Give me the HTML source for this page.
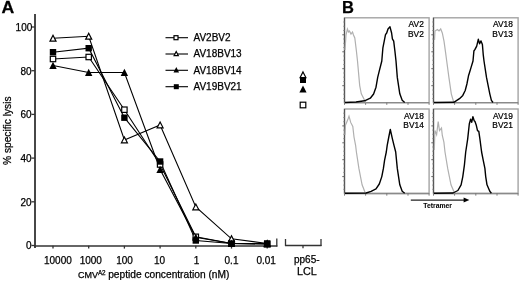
<!DOCTYPE html>
<html><head><meta charset="utf-8"><style>
html,body{margin:0;padding:0;background:#fff;}
svg{display:block;filter:blur(0.3px);}
text{font-family:"Liberation Sans",sans-serif;fill:#000;stroke:#000;stroke-width:0.25px;}
</style></head><body>
<svg width="520" height="281" viewBox="0 0 520 281">
<text transform="translate(1.5,13.3) scale(1.07,1)" font-size="16.5" font-weight="bold">A</text>
<text x="342" y="13.3" font-size="16.5" font-weight="bold">B</text>
<line x1="35" y1="14" x2="35" y2="248" stroke="#333" stroke-width="1.8"/>
<line x1="31.5" y1="27.0" x2="35" y2="27.0" stroke="#333" stroke-width="1.3"/>
<text x="32.3" y="30.9" font-size="10" text-anchor="end">100</text>
<line x1="31.5" y1="70.7" x2="35" y2="70.7" stroke="#333" stroke-width="1.3"/>
<text x="31.5" y="74.6" font-size="10" text-anchor="end">80</text>
<line x1="31.5" y1="114.4" x2="35" y2="114.4" stroke="#333" stroke-width="1.3"/>
<text x="31.5" y="118.3" font-size="10" text-anchor="end">60</text>
<line x1="31.5" y1="158.1" x2="35" y2="158.1" stroke="#333" stroke-width="1.3"/>
<text x="31.5" y="162.0" font-size="10" text-anchor="end">40</text>
<line x1="31.5" y1="201.8" x2="35" y2="201.8" stroke="#333" stroke-width="1.3"/>
<text x="31.5" y="205.7" font-size="10" text-anchor="end">20</text>
<line x1="31.5" y1="245.5" x2="35" y2="245.5" stroke="#333" stroke-width="1.3"/>
<text x="31.5" y="249.4" font-size="10" text-anchor="end">0</text>
<text transform="translate(11.4,165) rotate(-90)" font-size="10.2">% specific lysis</text>
<line x1="34" y1="246" x2="277.4" y2="246" stroke="#333" stroke-width="1.6"/>
<line x1="276.8" y1="238.5" x2="276.8" y2="246.6" stroke="#333" stroke-width="1.3"/>
<line x1="53" y1="245.8" x2="53" y2="248.6" stroke="#333" stroke-width="1.3"/>
<line x1="88.7" y1="245.8" x2="88.7" y2="248.6" stroke="#333" stroke-width="1.3"/>
<line x1="124.4" y1="245.8" x2="124.4" y2="248.6" stroke="#333" stroke-width="1.3"/>
<line x1="160.1" y1="245.8" x2="160.1" y2="248.6" stroke="#333" stroke-width="1.3"/>
<line x1="195.8" y1="245.8" x2="195.8" y2="248.6" stroke="#333" stroke-width="1.3"/>
<line x1="231.5" y1="245.8" x2="231.5" y2="248.6" stroke="#333" stroke-width="1.3"/>
<line x1="267.2" y1="245.8" x2="267.2" y2="248.6" stroke="#333" stroke-width="1.3"/>
<line x1="285" y1="245.5" x2="321.5" y2="245.5" stroke="#333" stroke-width="1.6"/>
<line x1="285.5" y1="239" x2="285.5" y2="246" stroke="#333" stroke-width="1.3"/>
<line x1="321" y1="239" x2="321" y2="246" stroke="#333" stroke-width="1.3"/>
<line x1="303" y1="245.5" x2="303" y2="248.3" stroke="#333" stroke-width="1.3"/>
<text x="57.9" y="263.5" font-size="10" text-anchor="middle">10000</text>
<text x="90.8" y="263.5" font-size="10" text-anchor="middle">1000</text>
<text x="124.5" y="263.5" font-size="10" text-anchor="middle">100</text>
<text x="159.6" y="263.5" font-size="10" text-anchor="middle">10</text>
<text x="196.5" y="263.5" font-size="10" text-anchor="middle">1</text>
<text x="231.5" y="263.5" font-size="10" text-anchor="middle">0.1</text>
<text x="266.2" y="263.5" font-size="10" text-anchor="middle">0.01</text>
<text x="306.8" y="263.3" font-size="10" text-anchor="middle">pp65-</text>
<text x="306.9" y="275.4" font-size="10.8" text-anchor="middle">LCL</text>
<text x="77.9" y="277.6" font-size="9">CMV</text>
<text x="97.9" y="274.6" font-size="6.3">A2</text>
<text x="108.2" y="277.6" font-size="10.2">peptide concentration (nM)</text>
<polyline points="53.0,59.0 88.7,57.0 124.4,109.7 160.1,164.5 195.8,236.8 231.5,243.5 267.2,244.0" fill="none" stroke="#000" stroke-width="1.1"/>
<polyline points="53.0,38.3 88.7,36.3 124.4,140.0 160.1,125.0 195.8,207.0 231.5,238.8 267.2,243.5" fill="none" stroke="#000" stroke-width="1.1"/>
<polyline points="53.0,65.5 88.7,72.5 124.4,72.5 160.1,169.5 195.8,237.2 231.5,243.5 267.2,244.0" fill="none" stroke="#000" stroke-width="1.1"/>
<polyline points="53.0,52.2 88.7,48.2 124.4,117.7 160.1,161.5 195.8,240.5 231.5,243.5 267.2,243.5" fill="none" stroke="#000" stroke-width="1.1"/>
<rect x="50.3" y="56.3" width="5.4" height="5.4" fill="#fff" stroke="#000" stroke-width="1.2"/>
<rect x="86.0" y="54.3" width="5.4" height="5.4" fill="#fff" stroke="#000" stroke-width="1.2"/>
<rect x="121.7" y="107.0" width="5.4" height="5.4" fill="#fff" stroke="#000" stroke-width="1.2"/>
<rect x="157.4" y="161.8" width="5.4" height="5.4" fill="#fff" stroke="#000" stroke-width="1.2"/>
<rect x="193.1" y="234.1" width="5.4" height="5.4" fill="#fff" stroke="#000" stroke-width="1.2"/>
<rect x="228.8" y="240.8" width="5.4" height="5.4" fill="#fff" stroke="#000" stroke-width="1.2"/>
<rect x="264.5" y="241.3" width="5.4" height="5.4" fill="#fff" stroke="#000" stroke-width="1.2"/>
<polygon points="53.0,35.3 56.0,41.1 50.0,41.1" fill="#fff" stroke="#000" stroke-width="1.2" stroke-linejoin="miter"/>
<polygon points="88.7,33.3 91.7,39.1 85.7,39.1" fill="#fff" stroke="#000" stroke-width="1.2" stroke-linejoin="miter"/>
<polygon points="124.4,137.0 127.4,142.8 121.4,142.8" fill="#fff" stroke="#000" stroke-width="1.2" stroke-linejoin="miter"/>
<polygon points="160.1,122.0 163.1,127.8 157.1,127.8" fill="#fff" stroke="#000" stroke-width="1.2" stroke-linejoin="miter"/>
<polygon points="195.8,204.0 198.8,209.8 192.8,209.8" fill="#fff" stroke="#000" stroke-width="1.2" stroke-linejoin="miter"/>
<polygon points="231.5,235.8 234.5,241.7 228.5,241.7" fill="#fff" stroke="#000" stroke-width="1.2" stroke-linejoin="miter"/>
<polygon points="267.2,240.5 270.2,246.3 264.2,246.3" fill="#fff" stroke="#000" stroke-width="1.2" stroke-linejoin="miter"/>
<polygon points="53.0,61.8 56.7,69.0 49.3,69.0" fill="#000"/>
<polygon points="88.7,68.8 92.4,76.0 85.0,76.0" fill="#000"/>
<polygon points="124.4,68.8 128.1,76.0 120.7,76.0" fill="#000"/>
<polygon points="160.1,165.8 163.8,173.0 156.4,173.0" fill="#000"/>
<polygon points="195.8,233.5 199.5,240.7 192.1,240.7" fill="#000"/>
<polygon points="231.5,239.8 235.2,247.0 227.8,247.0" fill="#000"/>
<polygon points="267.2,240.3 270.9,247.5 263.5,247.5" fill="#000"/>
<rect x="49.8" y="49.0" width="6.4" height="6.4" fill="#000"/>
<rect x="85.5" y="45.0" width="6.4" height="6.4" fill="#000"/>
<rect x="121.2" y="114.5" width="6.4" height="6.4" fill="#000"/>
<rect x="156.9" y="158.3" width="6.4" height="6.4" fill="#000"/>
<rect x="192.6" y="237.3" width="6.4" height="6.4" fill="#000"/>
<rect x="228.3" y="240.3" width="6.4" height="6.4" fill="#000"/>
<rect x="264.0" y="240.3" width="6.4" height="6.4" fill="#000"/>
<line x1="165.5" y1="37.7" x2="188" y2="37.7" stroke="#000" stroke-width="1.1"/>
<text x="193.5" y="41.1" font-size="10">AV2BV2</text>
<line x1="165.5" y1="54.0" x2="188" y2="54.0" stroke="#000" stroke-width="1.1"/>
<text x="193.5" y="57.4" font-size="10">AV18BV13</text>
<line x1="165.5" y1="70.3" x2="188" y2="70.3" stroke="#000" stroke-width="1.1"/>
<text x="193.5" y="73.7" font-size="10">AV18BV14</text>
<line x1="165.5" y1="86.7" x2="188" y2="86.7" stroke="#000" stroke-width="1.1"/>
<text x="193.5" y="90.1" font-size="10">AV19BV21</text>
<rect x="174.0" y="35.7" width="4.0" height="4.0" fill="#fff" stroke="#000" stroke-width="1.2"/>
<polygon points="176.2,51.5 178.3,55.6 174.1,55.6" fill="#fff" stroke="#000" stroke-width="1.2" stroke-linejoin="miter"/>
<polygon points="176.3,67.0 179.1,72.5 173.5,72.5" fill="#000"/>
<rect x="173.8" y="84.2" width="5" height="5" fill="#000"/>
<rect x="300.0" y="77.0" width="6" height="6" fill="#000"/>
<polygon points="303.0,85.4 306.6,92.4 299.4,92.4" fill="#000"/>
<rect x="300.2" y="102.2" width="5.6" height="5.6" fill="#fff" stroke="#000" stroke-width="1.2"/>
<polygon points="303.0,71.9 305.9,77.6 300.1,77.6" fill="#fff" stroke="#000" stroke-width="1.2" stroke-linejoin="miter"/>
<rect x="344.5" y="17.8" width="84.60000000000002" height="84.9" fill="none" stroke="#a4a4a4" stroke-width="1.4"/>
<line x1="344.5" y1="17.8" x2="344.5" y2="102.7" stroke="#555" stroke-width="1.2"/>
<line x1="344.5" y1="102.7" x2="429.1" y2="102.7" stroke="#8a8a8a" stroke-width="1.3"/>
<line x1="344.5" y1="102.7" x2="344.5" y2="104.9" stroke="#666" stroke-width="0.8"/>
<line x1="365.6" y1="102.7" x2="365.6" y2="104.9" stroke="#666" stroke-width="0.8"/>
<line x1="386.8" y1="102.7" x2="386.8" y2="104.9" stroke="#666" stroke-width="0.8"/>
<line x1="408.0" y1="102.7" x2="408.0" y2="104.9" stroke="#666" stroke-width="0.8"/>
<line x1="429.1" y1="102.7" x2="429.1" y2="104.9" stroke="#666" stroke-width="0.8"/>
<line x1="343.2" y1="98.5" x2="344.5" y2="98.5" stroke="#888" stroke-width="0.8"/>
<line x1="343.2" y1="94.2" x2="344.5" y2="94.2" stroke="#888" stroke-width="0.8"/>
<line x1="343.2" y1="90.0" x2="344.5" y2="90.0" stroke="#888" stroke-width="0.8"/>
<line x1="342.3" y1="85.7" x2="344.5" y2="85.7" stroke="#666" stroke-width="1"/>
<line x1="343.2" y1="81.5" x2="344.5" y2="81.5" stroke="#888" stroke-width="0.8"/>
<line x1="343.2" y1="77.2" x2="344.5" y2="77.2" stroke="#888" stroke-width="0.8"/>
<line x1="343.2" y1="73.0" x2="344.5" y2="73.0" stroke="#888" stroke-width="0.8"/>
<line x1="342.3" y1="68.7" x2="344.5" y2="68.7" stroke="#666" stroke-width="1"/>
<line x1="343.2" y1="64.5" x2="344.5" y2="64.5" stroke="#888" stroke-width="0.8"/>
<line x1="343.2" y1="60.2" x2="344.5" y2="60.2" stroke="#888" stroke-width="0.8"/>
<line x1="343.2" y1="56.0" x2="344.5" y2="56.0" stroke="#888" stroke-width="0.8"/>
<line x1="342.3" y1="51.8" x2="344.5" y2="51.8" stroke="#666" stroke-width="1"/>
<line x1="343.2" y1="47.5" x2="344.5" y2="47.5" stroke="#888" stroke-width="0.8"/>
<line x1="343.2" y1="43.3" x2="344.5" y2="43.3" stroke="#888" stroke-width="0.8"/>
<line x1="343.2" y1="39.0" x2="344.5" y2="39.0" stroke="#888" stroke-width="0.8"/>
<line x1="342.3" y1="34.8" x2="344.5" y2="34.8" stroke="#666" stroke-width="1"/>
<line x1="343.2" y1="30.5" x2="344.5" y2="30.5" stroke="#888" stroke-width="0.8"/>
<line x1="343.2" y1="26.3" x2="344.5" y2="26.3" stroke="#888" stroke-width="0.8"/>
<line x1="343.2" y1="22.0" x2="344.5" y2="22.0" stroke="#888" stroke-width="0.8"/>
<path d="M345,50 L346,35 L347.4,29 L348.5,32 L349.5,31 L351,34 L352.5,32 L353.5,35 L354.8,38 L356.4,51 L357.5,61 L359.7,85.6 L361.3,93.8 L364.6,100.3 L366,102.5" fill="none" stroke="#b0b0b0" stroke-width="1.2"/>
<path d="M345,102.5 L356,102 L364.6,100.8 L370.3,98.2 L373.6,94 L376,87.2 L377.7,77.4 L379.3,70.8 L381.8,61 L382.9,47.8 L385.5,34.7 L386.7,33 L388,29 L390,26.8 L391.6,33 L392.4,38.8 L393.7,41.2 L394.9,51 L396,61 L397.3,77.4 L399.8,93.8 L402.2,100.3 L404.7,102.5" fill="none" stroke="#000" stroke-width="1.4" stroke-linejoin="round"/>
<text transform="translate(423.8,27.3) scale(0.93,1)" font-size="9" text-anchor="end">AV2</text>
<text transform="translate(423.8,37.0) scale(0.93,1)" font-size="9" text-anchor="end">BV2</text>
<rect x="433.5" y="17.8" width="84.60000000000002" height="84.9" fill="none" stroke="#a4a4a4" stroke-width="1.4"/>
<line x1="433.5" y1="17.8" x2="433.5" y2="102.7" stroke="#555" stroke-width="1.2"/>
<line x1="433.5" y1="102.7" x2="518.1" y2="102.7" stroke="#8a8a8a" stroke-width="1.3"/>
<line x1="433.5" y1="102.7" x2="433.5" y2="104.9" stroke="#666" stroke-width="0.8"/>
<line x1="454.6" y1="102.7" x2="454.6" y2="104.9" stroke="#666" stroke-width="0.8"/>
<line x1="475.8" y1="102.7" x2="475.8" y2="104.9" stroke="#666" stroke-width="0.8"/>
<line x1="497.0" y1="102.7" x2="497.0" y2="104.9" stroke="#666" stroke-width="0.8"/>
<line x1="518.1" y1="102.7" x2="518.1" y2="104.9" stroke="#666" stroke-width="0.8"/>
<line x1="432.2" y1="98.5" x2="433.5" y2="98.5" stroke="#888" stroke-width="0.8"/>
<line x1="432.2" y1="94.2" x2="433.5" y2="94.2" stroke="#888" stroke-width="0.8"/>
<line x1="432.2" y1="90.0" x2="433.5" y2="90.0" stroke="#888" stroke-width="0.8"/>
<line x1="431.3" y1="85.7" x2="433.5" y2="85.7" stroke="#666" stroke-width="1"/>
<line x1="432.2" y1="81.5" x2="433.5" y2="81.5" stroke="#888" stroke-width="0.8"/>
<line x1="432.2" y1="77.2" x2="433.5" y2="77.2" stroke="#888" stroke-width="0.8"/>
<line x1="432.2" y1="73.0" x2="433.5" y2="73.0" stroke="#888" stroke-width="0.8"/>
<line x1="431.3" y1="68.7" x2="433.5" y2="68.7" stroke="#666" stroke-width="1"/>
<line x1="432.2" y1="64.5" x2="433.5" y2="64.5" stroke="#888" stroke-width="0.8"/>
<line x1="432.2" y1="60.2" x2="433.5" y2="60.2" stroke="#888" stroke-width="0.8"/>
<line x1="432.2" y1="56.0" x2="433.5" y2="56.0" stroke="#888" stroke-width="0.8"/>
<line x1="431.3" y1="51.8" x2="433.5" y2="51.8" stroke="#666" stroke-width="1"/>
<line x1="432.2" y1="47.5" x2="433.5" y2="47.5" stroke="#888" stroke-width="0.8"/>
<line x1="432.2" y1="43.3" x2="433.5" y2="43.3" stroke="#888" stroke-width="0.8"/>
<line x1="432.2" y1="39.0" x2="433.5" y2="39.0" stroke="#888" stroke-width="0.8"/>
<line x1="431.3" y1="34.8" x2="433.5" y2="34.8" stroke="#666" stroke-width="1"/>
<line x1="432.2" y1="30.5" x2="433.5" y2="30.5" stroke="#888" stroke-width="0.8"/>
<line x1="432.2" y1="26.3" x2="433.5" y2="26.3" stroke="#888" stroke-width="0.8"/>
<line x1="432.2" y1="22.0" x2="433.5" y2="22.0" stroke="#888" stroke-width="0.8"/>
<path d="M434.5,40 L435,31 L437.4,29.5 L439,31 L440.7,29 L442.3,33 L444,41.2 L445.6,52.7 L446.7,61 L448.9,77.4 L451.3,93.8 L453.8,102.5" fill="none" stroke="#b0b0b0" stroke-width="1.2"/>
<path d="M434,102.5 L453.8,102.3 L459.5,98.7 L462.8,95.4 L465.2,90.5 L466.9,84 L468.5,75.8 L469.3,73.3 L471,67.6 L473,61 L473.9,51 L475,49.4 L476.7,46.1 L478.3,39.3 L479.6,43.7 L481,40.9 L482.4,44.5 L483.2,54.3 L484,61 L486.5,77.4 L489.8,93.8 L491.4,100.3 L493,102.5" fill="none" stroke="#000" stroke-width="1.4" stroke-linejoin="round"/>
<text transform="translate(512.8,27.3) scale(0.93,1)" font-size="9" text-anchor="end">AV18</text>
<text transform="translate(512.8,37.0) scale(0.93,1)" font-size="9" text-anchor="end">BV13</text>
<rect x="344.5" y="109" width="84.60000000000002" height="84.5" fill="none" stroke="#a4a4a4" stroke-width="1.4"/>
<line x1="344.5" y1="109" x2="344.5" y2="193.5" stroke="#555" stroke-width="1.2"/>
<line x1="344.5" y1="193.5" x2="429.1" y2="193.5" stroke="#8a8a8a" stroke-width="1.3"/>
<line x1="344.5" y1="193.5" x2="344.5" y2="195.7" stroke="#666" stroke-width="0.8"/>
<line x1="365.6" y1="193.5" x2="365.6" y2="195.7" stroke="#666" stroke-width="0.8"/>
<line x1="386.8" y1="193.5" x2="386.8" y2="195.7" stroke="#666" stroke-width="0.8"/>
<line x1="408.0" y1="193.5" x2="408.0" y2="195.7" stroke="#666" stroke-width="0.8"/>
<line x1="429.1" y1="193.5" x2="429.1" y2="195.7" stroke="#666" stroke-width="0.8"/>
<line x1="343.2" y1="189.3" x2="344.5" y2="189.3" stroke="#888" stroke-width="0.8"/>
<line x1="343.2" y1="185.1" x2="344.5" y2="185.1" stroke="#888" stroke-width="0.8"/>
<line x1="343.2" y1="180.8" x2="344.5" y2="180.8" stroke="#888" stroke-width="0.8"/>
<line x1="342.3" y1="176.6" x2="344.5" y2="176.6" stroke="#666" stroke-width="1"/>
<line x1="343.2" y1="172.4" x2="344.5" y2="172.4" stroke="#888" stroke-width="0.8"/>
<line x1="343.2" y1="168.2" x2="344.5" y2="168.2" stroke="#888" stroke-width="0.8"/>
<line x1="343.2" y1="163.9" x2="344.5" y2="163.9" stroke="#888" stroke-width="0.8"/>
<line x1="342.3" y1="159.7" x2="344.5" y2="159.7" stroke="#666" stroke-width="1"/>
<line x1="343.2" y1="155.5" x2="344.5" y2="155.5" stroke="#888" stroke-width="0.8"/>
<line x1="343.2" y1="151.2" x2="344.5" y2="151.2" stroke="#888" stroke-width="0.8"/>
<line x1="343.2" y1="147.0" x2="344.5" y2="147.0" stroke="#888" stroke-width="0.8"/>
<line x1="342.3" y1="142.8" x2="344.5" y2="142.8" stroke="#666" stroke-width="1"/>
<line x1="343.2" y1="138.6" x2="344.5" y2="138.6" stroke="#888" stroke-width="0.8"/>
<line x1="343.2" y1="134.3" x2="344.5" y2="134.3" stroke="#888" stroke-width="0.8"/>
<line x1="343.2" y1="130.1" x2="344.5" y2="130.1" stroke="#888" stroke-width="0.8"/>
<line x1="342.3" y1="125.9" x2="344.5" y2="125.9" stroke="#666" stroke-width="1"/>
<line x1="343.2" y1="121.7" x2="344.5" y2="121.7" stroke="#888" stroke-width="0.8"/>
<line x1="343.2" y1="117.5" x2="344.5" y2="117.5" stroke="#888" stroke-width="0.8"/>
<line x1="343.2" y1="113.2" x2="344.5" y2="113.2" stroke="#888" stroke-width="0.8"/>
<path d="M345,135 L345.5,125 L346.6,122.4 L348,119 L349,116.2 L350.7,122.4 L352.8,126.5 L354,137 L355.6,145.3 L356.4,152 L358.9,168.4 L362.1,184.8 L365.4,193.3" fill="none" stroke="#b0b0b0" stroke-width="1.2"/>
<path d="M345,193.3 L366.2,193 L371.1,191.3 L376,188.9 L379.3,184 L381.8,176.6 L383.4,168.4 L384.6,160.2 L386.3,152 L387.2,145.3 L388.7,137.5 L390.3,129.5 L392.4,138.8 L394,145.3 L395.7,152 L397.3,168.4 L399.8,184.8 L402.2,191.3 L404.7,193.3" fill="none" stroke="#000" stroke-width="1.4" stroke-linejoin="round"/>
<text transform="translate(423.8,118.5) scale(0.93,1)" font-size="9" text-anchor="end">AV18</text>
<text transform="translate(423.8,128.2) scale(0.93,1)" font-size="9" text-anchor="end">BV14</text>
<rect x="433.5" y="109" width="84.60000000000002" height="84.5" fill="none" stroke="#a4a4a4" stroke-width="1.4"/>
<line x1="433.5" y1="109" x2="433.5" y2="193.5" stroke="#555" stroke-width="1.2"/>
<line x1="433.5" y1="193.5" x2="518.1" y2="193.5" stroke="#8a8a8a" stroke-width="1.3"/>
<line x1="433.5" y1="193.5" x2="433.5" y2="195.7" stroke="#666" stroke-width="0.8"/>
<line x1="454.6" y1="193.5" x2="454.6" y2="195.7" stroke="#666" stroke-width="0.8"/>
<line x1="475.8" y1="193.5" x2="475.8" y2="195.7" stroke="#666" stroke-width="0.8"/>
<line x1="497.0" y1="193.5" x2="497.0" y2="195.7" stroke="#666" stroke-width="0.8"/>
<line x1="518.1" y1="193.5" x2="518.1" y2="195.7" stroke="#666" stroke-width="0.8"/>
<line x1="432.2" y1="189.3" x2="433.5" y2="189.3" stroke="#888" stroke-width="0.8"/>
<line x1="432.2" y1="185.1" x2="433.5" y2="185.1" stroke="#888" stroke-width="0.8"/>
<line x1="432.2" y1="180.8" x2="433.5" y2="180.8" stroke="#888" stroke-width="0.8"/>
<line x1="431.3" y1="176.6" x2="433.5" y2="176.6" stroke="#666" stroke-width="1"/>
<line x1="432.2" y1="172.4" x2="433.5" y2="172.4" stroke="#888" stroke-width="0.8"/>
<line x1="432.2" y1="168.2" x2="433.5" y2="168.2" stroke="#888" stroke-width="0.8"/>
<line x1="432.2" y1="163.9" x2="433.5" y2="163.9" stroke="#888" stroke-width="0.8"/>
<line x1="431.3" y1="159.7" x2="433.5" y2="159.7" stroke="#666" stroke-width="1"/>
<line x1="432.2" y1="155.5" x2="433.5" y2="155.5" stroke="#888" stroke-width="0.8"/>
<line x1="432.2" y1="151.2" x2="433.5" y2="151.2" stroke="#888" stroke-width="0.8"/>
<line x1="432.2" y1="147.0" x2="433.5" y2="147.0" stroke="#888" stroke-width="0.8"/>
<line x1="431.3" y1="142.8" x2="433.5" y2="142.8" stroke="#666" stroke-width="1"/>
<line x1="432.2" y1="138.6" x2="433.5" y2="138.6" stroke="#888" stroke-width="0.8"/>
<line x1="432.2" y1="134.3" x2="433.5" y2="134.3" stroke="#888" stroke-width="0.8"/>
<line x1="432.2" y1="130.1" x2="433.5" y2="130.1" stroke="#888" stroke-width="0.8"/>
<line x1="431.3" y1="125.9" x2="433.5" y2="125.9" stroke="#666" stroke-width="1"/>
<line x1="432.2" y1="121.7" x2="433.5" y2="121.7" stroke="#888" stroke-width="0.8"/>
<line x1="432.2" y1="117.5" x2="433.5" y2="117.5" stroke="#888" stroke-width="0.8"/>
<line x1="432.2" y1="113.2" x2="433.5" y2="113.2" stroke="#888" stroke-width="0.8"/>
<path d="M434.3,150 L434.9,130.6 L436.6,134.7 L438.2,121.6 L439.5,130.6 L441.5,128.1 L442.3,135.5 L443.9,142.1 L445,152 L447.7,168.4 L451,184.8 L454.6,193.3" fill="none" stroke="#b0b0b0" stroke-width="1.2"/>
<path d="M434,193.3 L453,193 L457.9,190.5 L461.1,184.8 L462.8,176.6 L464.4,165.1 L465.7,152 L467.7,138.8 L469.3,124 L470.6,119.1 L471.7,122.4 L472.9,116.7 L474.2,120.8 L475,121.6 L476.2,124.9 L477.5,130.6 L478.8,131.4 L479.9,138.8 L481.6,152 L483.2,160.2 L484.9,168.4 L485.7,176.6 L487,184.8 L489.8,191.3 L491.4,193.3" fill="none" stroke="#000" stroke-width="1.4" stroke-linejoin="round"/>
<text transform="translate(512.8,118.5) scale(0.93,1)" font-size="9" text-anchor="end">AV19</text>
<text transform="translate(512.8,128.2) scale(0.93,1)" font-size="9" text-anchor="end">BV21</text>
<line x1="410.8" y1="200.1" x2="465" y2="200.1" stroke="#222" stroke-width="1.15"/>
<polygon points="463.6,197.6 469.4,200.1 463.6,202.6" fill="#000"/>
<text transform="translate(423.2,208) scale(0.94,1)" font-size="7.3" font-weight="bold" style="stroke-width:0.05px">Tetramer</text>
</svg>
</body></html>
